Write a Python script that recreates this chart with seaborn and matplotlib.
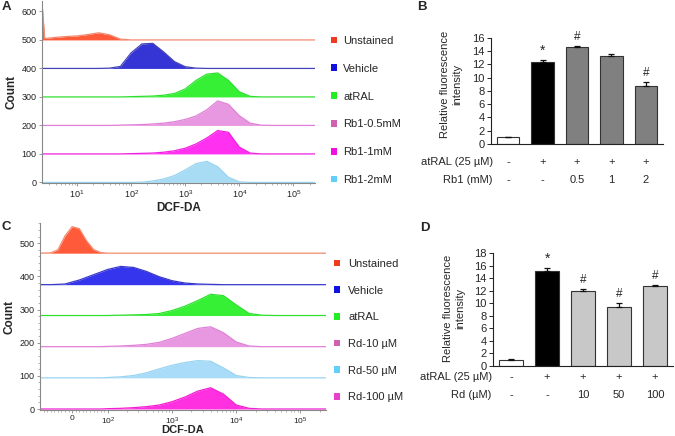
import numpy as np
import matplotlib
matplotlib.use("Agg")
import matplotlib.pyplot as plt
from matplotlib import ticker
from matplotlib.patches import Patch
import seaborn as sns

# ---- panel A: DCF-DA histograms (counts above each track's baseline) ----
LOG_A = [0.36, 0.40, 0.6, 0.8, 1.0, 1.2, 1.4, 1.6, 1.8, 2.0, 2.2, 2.4, 2.6, 2.8,
         3.0, 3.2, 3.4, 3.6, 3.8, 4.0, 4.2, 4.4, 4.6, 4.8, 5.0, 5.2, 5.4]
UNSTAINED_A = [108, 5, 9, 12, 14, 19, 25, 18, 3, 0, 0, 0, 0, 0,
               0, 0, 0, 0, 0, 0, 0, 0, 0, 0, 0, 0, 0]
VEHICLE_A = [0, 0, 0, 0, 0, 0, 0, 1, 7, 55, 86, 88, 58, 24,
             6, 1, 0, 0, 0, 0, 0, 0, 0, 0, 0, 0, 0]
ATRAL_A = [0, 0, 0, 0, 0, 0, 0, 0, 0, 1, 2, 3, 6, 12,
           28, 58, 80, 84, 58, 18, 2, 0, 0, 0, 0, 0, 0]
RB1_05_A = [0, 0, 0, 0, 0, 0, 0, 0, 1, 2, 3, 5, 8, 13,
            21, 33, 55, 86, 74, 34, 8, 1, 0, 0, 0, 0, 0]
RB1_1_A = [0, 0, 0, 0, 0, 0, 0, 0, 0, 1, 2, 3, 6, 11,
           20, 35, 56, 82, 76, 24, 3, 0, 0, 0, 0, 0, 0]
RB1_2_A = [0, 0, 0, 0, 0, 0, 0, 0, 0, 0, 1, 5, 12, 24,
           44, 66, 74, 55, 18, 2, 0, 0, 0, 0, 0, 0, 0]
OFFSETS_A = [500, 400, 300, 200, 100, 0]
LABELS_A = ["Unstained", "Vehicle", "atRAL", "Rb1-0.5mM", "Rb1-1mM", "Rb1-2mM"]

# ---- panel C: DCF-DA histograms, linear part near zero then decades ----
LIN_C = [-90, -60, -40, -20, 0, 20, 40, 60, 80]
LOG_C = [2.0, 2.2, 2.4, 2.6, 2.8, 3.0, 3.2, 3.4, 3.6, 3.8, 4.0, 4.2, 4.4,
         4.6, 4.8, 5.0, 5.2, 5.4]
UNSTAINED_C = [0, 1, 10, 52, 80, 74, 38, 11, 2,
               0, 0, 0, 0, 0, 0, 0, 0, 0, 0, 0, 0, 0, 0, 0, 0, 0, 0]
VEHICLE_C = [0, 0, 1, 2, 8, 14, 22, 30, 38,
             46, 55, 52, 40, 24, 12, 5, 2, 1, 0, 0, 0, 0, 0, 0, 0, 0, 0]
ATRAL_C = [0, 0, 0, 0, 0, 0, 0, 0, 0,
           0, 1, 2, 3, 6, 15, 28, 45, 64, 60, 32, 6, 1, 0, 0, 0, 0, 0]
RD10_C = [0, 0, 0, 0, 0, 0, 0, 0, 0,
          1, 2, 4, 7, 13, 25, 40, 55, 60, 42, 14, 2, 0, 0, 0, 0, 0, 0]
RD50_C = [0, 0, 0, 0, 0, 0, 0, 0, 0,
          1, 3, 7, 15, 27, 38, 46, 52, 50, 30, 7, 1, 0, 0, 0, 0, 0, 0]
RD100_C = [0, 0, 0, 0, 0, 0, 0, 0, 0,
           1, 2, 4, 7, 12, 22, 36, 54, 64, 45, 12, 2, 0, 0, 0, 0, 0, 0]
OFFSETS_C = [470, 375, 282, 188, 94, 0]
LABELS_C = ["Unstained", "Vehicle", "atRAL", "Rd-10 µM", "Rd-50 µM", "Rd-100 µM"]

# ---- panels B and D: relative fluorescence (mean, upper error) ----
B_GROUPS = ["ctrl", "atRAL", "Rb1 0.5", "Rb1 1", "Rb1 2"]
B_MEANS = [1.0, 12.3, 14.55, 13.25, 8.75]
B_ERR = [0.12, 0.4, 0.22, 0.3, 0.55]
B_ATRAL = ["-", "+", "+", "+", "+"]
B_DOSE = ["-", "-", "0.5", "1", "2"]
B_MARKS = ["", "*", "#", "", "#"]

D_GROUPS = ["ctrl", "atRAL", "Rd 10", "Rd 50", "Rd 100"]
D_MEANS = [1.0, 15.1, 11.9, 9.35, 12.75]
D_ERR = [0.12, 0.6, 0.4, 0.7, 0.2]
D_ATRAL = ["-", "+", "+", "+", "+"]
D_DOSE = ["-", "-", "10", "50", "100"]
D_MARKS = ["", "*", "#", "#", "#"]

# colours
FILL_A = ['#ff5a3a', '#3535d5', '#35f035', '#e898e0', '#ff30f0', '#a8dcf4']
EDGE_A = ['#f38a70', '#4444b8', '#30e030', '#e080d8', '#f020e0', '#98d4f0']
KEY_A = ['#f03c1e', '#1010e0', '#22ee22', '#d060b0', '#ee10e0', '#60d0f8']
FILL_C = ['#ff5a3a', '#3535ee', '#35f035', '#e898e0', '#a8dcf8', '#ff30e0']
EDGE_C = ['#f38a70', '#3838c8', '#30e030', '#e080d8', '#98d4f0', '#f020d0']
KEY_C = ['#f03c1e', '#1010e0', '#22ee22', '#d060b0', '#60d0f8', '#e840c8']

sns.set_style("ticks")
plt.rcParams['font.family'] = ['Liberation Sans', 'DejaVu Sans']
plt.rcParams['mathtext.default'] = 'regular'

fig = plt.figure(figsize=(6.75, 4.36), dpi=100)


def draw_track(ax, x, counts, base, fill, edge):
    y = base + np.asarray(counts, dtype=float)
    ax.fill_between(x, base, y, color=fill, linewidth=0)
    ax.plot(x, y, color=edge, lw=0.9)


def style_hist(ax, xlab_y, xtick_size, xlab_size):
    for s in ['top', 'right']:
        ax.spines[s].set_visible(False)
    for s in ['left', 'bottom']:
        ax.spines[s].set_color('#888888')
        ax.spines[s].set_linewidth(0.8)
    ax.tick_params(axis='both', which='major', labelsize=6.5, length=2.5,
                   width=0.6, color='#888888', labelcolor='#222222', pad=1.5)
    ax.tick_params(axis='x', which='major', labelsize=xtick_size, pad=1)
    ax.tick_params(axis='both', which='minor', length=1.5, width=0.5, color='#999999')
    ax.set_ylabel("Count", fontsize=8.5, fontweight='bold')
    ax.set_xlabel("DCF-DA", fontsize=xlab_size, fontweight='bold')
    ax.xaxis.set_label_coords(0.5, xlab_y)


# ---------------- panel A ----------------
axA = fig.add_axes([0.0622, 0.5803, 0.4044, 0.4170])
xA = 10 ** np.array(LOG_A)
for vals, base, fc, ec in zip([UNSTAINED_A, VEHICLE_A, ATRAL_A, RB1_05_A, RB1_1_A, RB1_2_A],
                              OFFSETS_A, FILL_A, EDGE_A):
    draw_track(axA, xA, vals, base, fc, ec)
axA.set_xscale('log')
axA.set_xlim(10 ** 0.35, 10 ** 5.4)
axA.set_ylim(-2, 636)
axA.xaxis.set_major_locator(ticker.FixedLocator([1e1, 1e2, 1e3, 1e4, 1e5]))
axA.xaxis.set_major_formatter(ticker.FixedFormatter(
    ["$10^{1}$", "$10^{2}$", "$10^{3}$", "$10^{4}$", "$10^{5}$"]))
axA.xaxis.set_minor_locator(ticker.LogLocator(base=10, subs=np.arange(2, 10), numticks=20))
axA.xaxis.set_minor_formatter(ticker.NullFormatter())
axA.set_yticks([0, 100, 200, 300, 400, 500, 600])
style_hist(axA, -0.105, 6.5, 8.5)
axA.yaxis.set_label_coords(-0.09, 0.5)

fig.legend(handles=[Patch(facecolor=c, edgecolor='none') for c in KEY_A], labels=LABELS_A,
           loc='upper left', bbox_to_anchor=(331 / 675, 1 - 36 / 436), frameon=False,
           fontsize=8, handlelength=0.55, handleheight=0.55, handletextpad=0.55,
           labelspacing=1.6, borderpad=0, borderaxespad=0)

# ---------------- panel C ----------------
axC = fig.add_axes([0.0593, 0.0585, 0.4237, 0.4300])
xC = np.concatenate([np.array(LIN_C, dtype=float), 10 ** np.array(LOG_C)])
for vals, base, fc, ec in zip([UNSTAINED_C, VEHICLE_C, ATRAL_C, RD10_C, RD50_C, RD100_C],
                              OFFSETS_C, FILL_C, EDGE_C):
    draw_track(axC, xC, vals, base, fc, ec)
axC.set_xscale('symlog', linthresh=100, linscale=0.5)
axC.set_xlim(-90, 2.5e5)
axC.set_ylim(-4.5, 561)
axC.xaxis.set_major_locator(ticker.FixedLocator([0, 1e2, 1e3, 1e4, 1e5]))
axC.xaxis.set_major_formatter(ticker.FixedFormatter(
    ["0", "$10^{2}$", "$10^{3}$", "$10^{4}$", "$10^{5}$"]))
minor_c = [v for v in range(-80, 100, 10) if v != 0]
for dec in [1e2, 1e3, 1e4, 1e5]:
    minor_c += [k * dec for k in range(2, 10)]
axC.xaxis.set_minor_locator(ticker.FixedLocator(minor_c))
axC.set_yticks([0, 100, 200, 300, 400, 500])
axC.yaxis.set_minor_locator(ticker.MultipleLocator(20))
style_hist(axC, -0.08, 6, 8)
axC.yaxis.set_label_coords(-0.085, 0.5)

fig.legend(handles=[Patch(facecolor=c, edgecolor='none') for c in KEY_C], labels=LABELS_C,
           loc='upper left', bbox_to_anchor=(334 / 675, 1 - 259 / 436), frameon=False,
           fontsize=8, handlelength=0.55, handleheight=0.55, handletextpad=0.75,
           labelspacing=1.5, borderpad=0, borderaxespad=0)


# ---------------- bar panels ----------------
def bar_panel(ax, groups, means, errs, colors, atral, dose, dose_label, marks,
              ymax, row_x, row_y1, row_y2, ylab_xy):
    sns.barplot(x=groups, y=means, hue=groups, palette=dict(zip(groups, colors)),
                legend=False, errorbar=None, width=0.65, edgecolor='#333333',
                linewidth=0.8, ax=ax)
    xs = np.arange(len(groups))
    ax.errorbar(xs, means, yerr=[np.zeros(len(errs)), errs], fmt='none',
                ecolor='#111111', elinewidth=0.9, capsize=2.5, capthick=0.9)
    for x, m, e, t in zip(xs, means, errs, marks):
        if t == "*":
            ax.text(x, m + e + 0.3, t, ha='center', va='bottom', fontsize=10)
        elif t:
            ax.text(x, m + e + 0.5, t, ha='center', va='bottom', fontsize=8.5)
    ax.set_xlim(-0.5, 4.5)
    ax.set_ylim(0, ymax)
    ax.set_yticks(np.arange(0, ymax + 1, 2))
    ax.set_xticks([])
    ax.set_xlabel("")
    for s in ['top', 'right']:
        ax.spines[s].set_visible(False)
    for s in ['left', 'bottom']:
        ax.spines[s].set_color('#222222')
        ax.spines[s].set_linewidth(0.8)
    ax.tick_params(axis='y', labelsize=8, length=3, width=0.7, pad=1.5)
    ax.set_ylabel("Relative fluorescence\nintensity", fontsize=8, linespacing=1.3)
    ax.yaxis.set_label_coords(*ylab_xy)
    tr = ax.get_xaxis_transform()
    ax.text(row_x, row_y1, "atRAL (25 µM)", transform=ax.transAxes, ha='right',
            va='center', fontsize=8)
    ax.text(row_x, row_y2, dose_label, transform=ax.transAxes, ha='right',
            va='center', fontsize=8)
    for x, a, d in zip(xs, atral, dose):
        ax.text(x, row_y1, a, transform=tr, ha='center', va='center', fontsize=8)
        ax.text(x, row_y2, d, transform=tr, ha='center', va='center', fontsize=8)


axB = fig.add_axes([0.7274, 0.6697, 0.2548, 0.2438])
bar_panel(axB, B_GROUPS, B_MEANS, B_ERR, ['white', 'black', '#808080', '#808080', '#808080'],
          B_ATRAL, B_DOSE, "Rb1 (mM)", B_MARKS, 16, 0.01, -0.172, -0.339, (-0.165, 0.56))

axD = fig.add_axes([0.7304, 0.1606, 0.2667, 0.2585])
bar_panel(axD, D_GROUPS, D_MEANS, D_ERR, ['white', 'black', '#c8c8c8', '#c8c8c8', '#c8c8c8'],
          D_ATRAL, D_DOSE, "Rd (µM)", D_MARKS, 18, -0.007, -0.095, -0.257, (-0.152, 0.51))

# panel letters
for letter, x, y in [("A", 6, 7), ("B", 422, 7), ("C", 6, 227), ("D", 425, 228)]:
    fig.text(x / 675, 1 - y / 436, letter, fontsize=9.5, fontweight='bold',
             ha='center', va='center')

fig.savefig("out.png", dpi=100)
